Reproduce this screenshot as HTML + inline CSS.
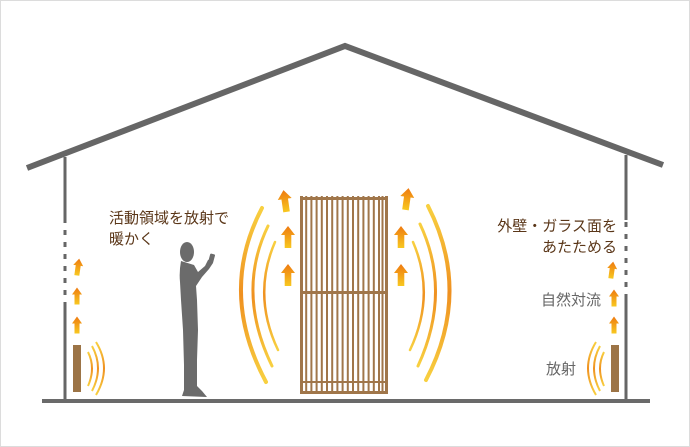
<!DOCTYPE html>
<html><head><meta charset="utf-8"><style>
html,body{margin:0;padding:0;background:#fff}
svg{display:block}
text{font-family:"Liberation Sans","Noto Sans CJK JP",sans-serif}
</style></head><body>
<svg width="690" height="447" viewBox="0 0 690 447" xmlns="http://www.w3.org/2000/svg">
<defs>
<linearGradient id="ag" x1="0" y1="0" x2="0" y2="1">
<stop offset="0" stop-color="#ee7a10"/><stop offset="1" stop-color="#f8c820"/></linearGradient>
<linearGradient id="arcg" x1="0" y1="0" x2="0" y2="1">
<stop offset="0" stop-color="#f8d040"/><stop offset="0.5" stop-color="#ef9020"/><stop offset="1" stop-color="#f8d040"/></linearGradient>
<g id="ar"><path d="M0,-11 L7,-2 L3.3,-2 L3.3,11 L-3.3,11 L-3.3,-2 L-7,-2 Z" fill="url(#ag)"/></g>
<g id="sar"><path d="M0,-8.5 L5,-1.5 L2.5,-1.5 L2.5,8.5 L-2.5,8.5 L-2.5,-1.5 L-5,-1.5 Z" fill="url(#ag)"/></g>
</defs>
<rect x="0.5" y="0.5" width="689" height="446" fill="#fff" stroke="#dcdcdc"/>
<polyline points="27,168 345,46 663,165" fill="none" stroke="#666" stroke-width="6"/>
<g stroke="#666" stroke-width="3">
<line x1="65" y1="157" x2="65" y2="218"/>
<line x1="65" y1="305" x2="65" y2="401"/>
<line x1="65" y1="218" x2="65" y2="305" stroke-dasharray="5,7"/>
<line x1="626" y1="155" x2="626" y2="220"/>
<line x1="626" y1="296" x2="626" y2="401"/>
<line x1="626" y1="222" x2="626" y2="296" stroke-dasharray="5,7"/>
</g>
<rect x="42" y="399" width="608" height="4" fill="#6a6a6a"/>
<rect x="73" y="345" width="8" height="47" fill="#9c7446"/>
<rect x="611" y="345" width="8" height="47" fill="#9c7446"/>
<g fill="none" stroke="url(#arcg)" stroke-width="2">
<path d="M88,352 Q96,368 88,386"/><path d="M92,346 Q104,368 92,391"/><path d="M96,342 Q112,368 96,395"/>
<path d="M604,352 Q596,368 604,386"/><path d="M600,346 Q588,368 600,391"/><path d="M596,342 Q580,368 596,395"/>
</g>
<g fill="none" stroke="url(#arcg)" stroke-linecap="round">
<path d="M262,208 Q218,292 266,382" stroke-width="4"/>
<path d="M268,226 Q236,292 272,366" stroke-width="3"/>
<path d="M275,242 Q252,295 278,350" stroke-width="2.5"/>
<path d="M428,206 Q472,292 426,380" stroke-width="4"/>
<path d="M420,224 Q452,292 418,366" stroke-width="3"/>
<path d="M413,242 Q436,295 410,350" stroke-width="2.5"/>
</g>
<use href="#sar" x="78" y="267" transform="rotate(8 78 267)"/>
<use href="#sar" x="77" y="296"/>
<use href="#sar" x="77" y="325"/>
<use href="#ar" x="285" y="201" transform="rotate(-8 285 201)"/>
<use href="#ar" x="288" y="237"/>
<use href="#ar" x="288" y="275"/>
<use href="#ar" x="407" y="199" transform="rotate(8 407 199)"/>
<use href="#ar" x="401" y="237"/>
<use href="#ar" x="401" y="275"/>
<use href="#sar" x="612" y="270" transform="rotate(8 612 270)"/>
<use href="#sar" x="614" y="298"/>
<use href="#sar" x="614" y="325"/>
<g fill="#a0764a">
<rect x="300" y="196" width="3" height="198"/>
<rect x="385" y="196" width="3" height="198"/>
<rect x="300" y="197" width="88" height="3"/>
<rect x="300" y="291" width="88" height="3"/>
<rect x="300" y="381" width="88" height="2"/>
<rect x="300" y="391" width="88" height="3"/>
<rect x="305.2" y="196" width="2" height="198"/><rect x="310.4" y="196" width="2" height="198"/>
<rect x="315.6" y="196" width="2" height="198"/><rect x="320.8" y="196" width="2" height="198"/>
<rect x="326" y="196" width="2" height="198"/><rect x="331.2" y="196" width="2" height="198"/>
<rect x="336.4" y="196" width="2" height="198"/><rect x="341.6" y="196" width="2" height="198"/>
<rect x="346.8" y="196" width="2" height="198"/><rect x="352" y="196" width="2" height="198"/>
<rect x="357.2" y="196" width="2" height="198"/><rect x="362.4" y="196" width="2" height="198"/>
<rect x="367.6" y="196" width="2" height="198"/><rect x="372.8" y="196" width="2" height="198"/>
<rect x="378" y="196" width="2" height="198"/><rect x="381.5" y="196" width="2" height="198"/>
</g>
<g fill="#6b6b6b">
<ellipse cx="187" cy="252" rx="7" ry="10"/>
<path d="M181,261 Q179,272 180,282 L181,300 L183,330 L184,365 L184,390 L182,396 L207,397 L202,391 L197,386 L197,360 L198,330 L197,300 L196,286 L202,277 L209,269 L213,263 L213,258 L208,260 L205,266 L198,272 L194,265 Z"/>
<rect x="209" y="254" width="5" height="9" rx="1" transform="rotate(15 212 259)"/>
</g>
<g font-size="15" fill="#5a3618">
<text x="109" y="223">活動領域を放射で</text>
<text x="109" y="244">暖かく</text>
<text x="617" y="231" text-anchor="end">外壁・ガラス面を</text>
<text x="617" y="252" text-anchor="end">あたためる</text>
</g>
<g font-size="15" fill="#666">
<text x="541" y="305">自然対流</text>
<text x="546" y="374">放射</text>
</g>
</svg>
</body></html>
